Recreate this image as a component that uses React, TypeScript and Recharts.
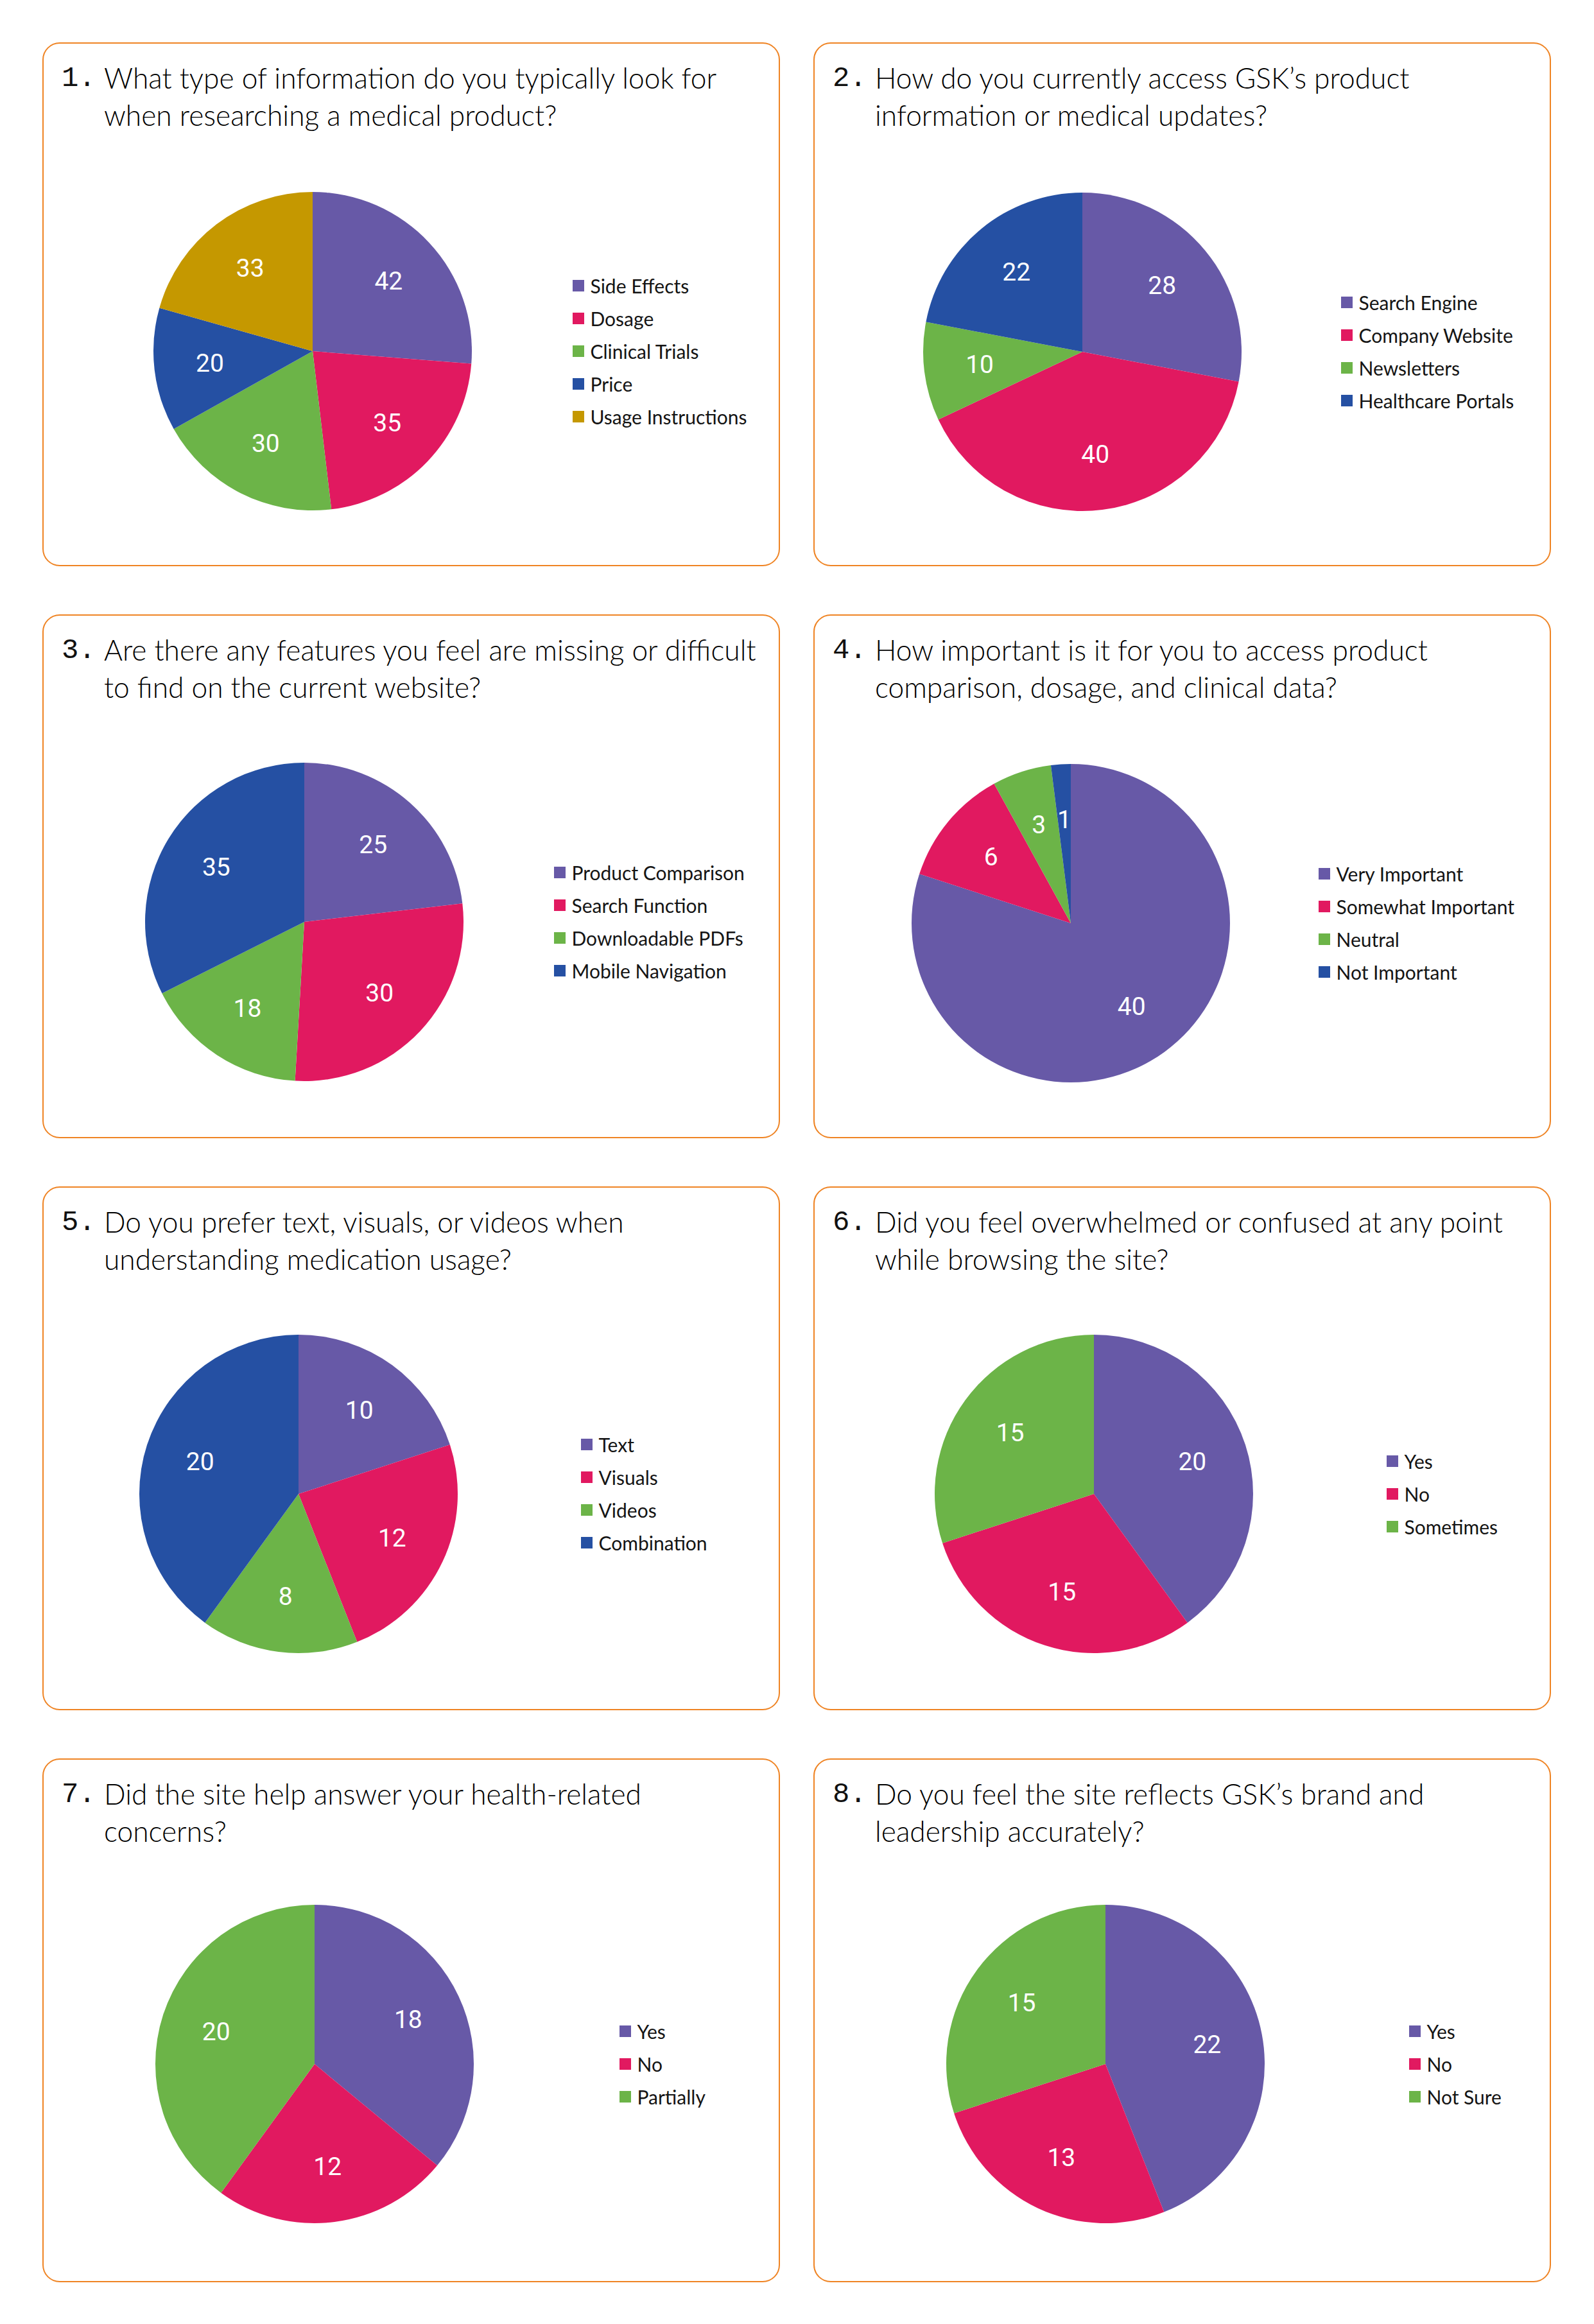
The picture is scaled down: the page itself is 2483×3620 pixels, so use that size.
import React from "react";
import { PieChart, Pie, Cell, Legend } from "recharts";

// survey answers, one pair of arrays per question
const q1Labels = ["Side Effects", "Dosage", "Clinical Trials", "Price", "Usage Instructions"];
const q1Values = [42, 35, 30, 20, 33];

const q2Labels = ["Search Engine", "Company Website", "Newsletters", "Healthcare Portals"];
const q2Values = [28, 40, 10, 22];

const q3Labels = ["Product Comparison", "Search Function", "Downloadable PDFs", "Mobile Navigation"];
const q3Values = [25, 30, 18, 35];

const q4Labels = ["Very Important", "Somewhat Important", "Neutral", "Not Important"];
const q4Values = [40, 6, 3, 1];

const q5Labels = ["Text", "Visuals", "Videos", "Combination"];
const q5Values = [10, 12, 8, 20];

const q6Labels = ["Yes", "No", "Sometimes"];
const q6Values = [20, 15, 15];

const q7Labels = ["Yes", "No", "Partially"];
const q7Values = [18, 12, 20];

const q8Labels = ["Yes", "No", "Not Sure"];
const q8Values = [22, 13, 15];

const questions = [
  ["What type of information do you typically look for", "when researching a medical product?"],
  ["How do you currently access GSK\u2019s product", "information or medical updates?"],
  ["Are there any features you feel are missing or difficult", "to find on the current website?"],
  ["How important is it for you to access product", "comparison, dosage, and clinical data?"],
  ["Do you prefer text, visuals, or videos when", "understanding medication usage?"],
  ["Did you feel overwhelmed or confused at any point", "while browsing the site?"],
  ["Did the site help answer your health-related", "concerns?"],
  ["Do you feel the site reflects GSK\u2019s brand and", "leadership accurately?"],
];

const COLORS = ["#6759A7", "#E11960", "#6CB448", "#2550A3", "#C59800"];

const PANEL_W = 1149;
const PANEL_H = 816;
const RADIUS = 248;
const ROW_H = 51;

// pie centre and legend x inside each card
const layout = [
  { cx: 416, cy: 476, lx: 826 },
  { cx: 414, cy: 477, lx: 822 },
  { cx: 403, cy: 474, lx: 797 },
  { cx: 396, cy: 476, lx: 787 },
  { cx: 394, cy: 474, lx: 839 },
  { cx: 432, cy: 474, lx: 893 },
  { cx: 419, cy: 471, lx: 899 },
  { cx: 450, cy: 471, lx: 928 },
];

const series = [
  [q1Labels, q1Values],
  [q2Labels, q2Values],
  [q3Labels, q3Values],
  [q4Labels, q4Values],
  [q5Labels, q5Values],
  [q6Labels, q6Values],
  [q7Labels, q7Values],
  [q8Labels, q8Values],
];

const RAD = Math.PI / 180;

const renderLabel = (props: any) => {
  const { cx, cy, midAngle, outerRadius, value } = props;
  const r = outerRadius * 0.65;
  const x = cx + r * Math.cos(-midAngle * RAD);
  const y = cy + r * Math.sin(-midAngle * RAD);
  return (
    <text
      x={x}
      y={y}
      fill="#fff"
      textAnchor="middle"
      dominantBaseline="central"
      fontFamily="Roboto, sans-serif"
      fontSize={39}
    >
      {value}
    </text>
  );
};

// legend keeps the slice order instead of sorting by name
const makeLegend = (labels: string[]) => () => (
  <div>
    {labels.map((name, i) => (
      <div key={name} style={{ display: "flex", alignItems: "center", height: ROW_H }}>
        <span style={{ width: 18, height: 18, background: COLORS[i], marginRight: 10 }} />
        <span
          style={{ fontFamily: "Lato, sans-serif", fontSize: 30, color: "#141414", lineHeight: 1 }}
        >
          {name}
        </span>
      </div>
    ))}
  </div>
);

const Panel = ({ idx, left, top }: { idx: number; left: number; top: number }) => {
  const [labels, values] = series[idx] as [string[], number[]];
  const data = labels.map((name, i) => ({ name, value: values[i] }));
  const { cx, cy, lx } = layout[idx];
  const [line1, line2] = questions[idx];
  return (
    <div
      style={{
        position: "absolute",
        left,
        top,
        width: PANEL_W,
        height: PANEL_H,
        boxSizing: "border-box",
        border: "2.5px solid #EF8424",
        borderRadius: 27,
        background: "#fff",
      }}
    >
      <div
        style={{
          position: "absolute",
          left: 28,
          top: 25,
          fontFamily: "'Liberation Mono', monospace",
          fontSize: 44,
          lineHeight: "58px",
          color: "#111",
        }}
      >
        {idx + 1}.
      </div>
      <div
        style={{
          position: "absolute",
          left: 94,
          top: 24,
          fontFamily: "Lato, sans-serif",
          fontWeight: 300,
          fontSize: 44.3,
          lineHeight: "58px",
          color: "#000",
          whiteSpace: "nowrap",
        }}
      >
        <div>{line1}</div>
        <div>{line2}</div>
      </div>
      <div style={{ position: "absolute", left: -2.5, top: -2.5 }}>
        <PieChart width={PANEL_W} height={PANEL_H}>
          <Pie
            data={data}
            dataKey="value"
            nameKey="name"
            cx={cx}
            cy={cy}
            outerRadius={RADIUS}
            startAngle={90}
            endAngle={-270}
            stroke="none"
            label={renderLabel}
            labelLine={false}
            isAnimationActive={false}
          >
            {data.map((d, i) => (
              <Cell key={d.name} fill={COLORS[i]} />
            ))}
          </Pie>
          <Legend
            layout="vertical"
            content={makeLegend(labels)}
            wrapperStyle={{
              left: lx,
              top: cy + 5 - (labels.length * ROW_H) / 2,
              width: "auto",
            }}
          />
        </PieChart>
      </div>
    </div>
  );
};

const ORIGIN_X = [66, 1267];
const ORIGIN_Y = [66, 957, 1848, 2739];

export default function App() {
  return (
    <div
      style={{
        position: "absolute",
        left: 0,
        top: 0,
        width: 2483,
        height: 3620,
        background: "#fff",
      }}
    >
      {series.map((_, i) => (
        <Panel
          key={i}
          idx={i}
          left={ORIGIN_X[i % 2]}
          top={ORIGIN_Y[Math.floor(i / 2)]}
        />
      ))}
    </div>
  );
}
